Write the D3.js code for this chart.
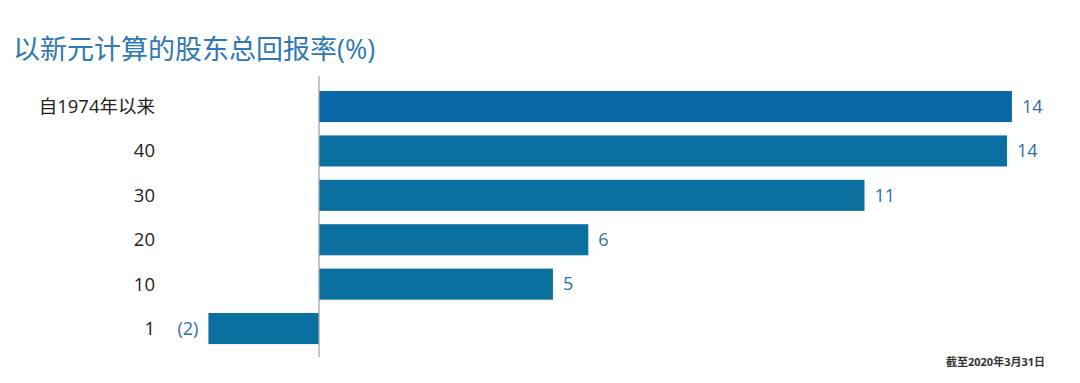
<!DOCTYPE html>
<html>
<head>
<meta charset="utf-8">
<script src="https://cdn.jsdelivr.net/npm/d3@7"></script>
<style>
  body { margin: 0; background: #fff; }
  svg { display: block; font-family: "Open Sans", "Noto Sans CJK SC", sans-serif; }
</style>
</head>
<body>
<svg id="chart"></svg>
<script>
// values
var categories = ["自1974年以来", "40", "30", "20", "10", "1"];
var values = [14.1, 14.0, 11.1, 5.48, 4.76, -2.25];
var valueLabels = ["14", "14", "11", "6", "5", "(2)"];
var title = "以新元计算的股东总回报率(%)";
var footnote = "截至2020年3月31日";

var width = 1080, height = 383;
var svg = d3.select("#chart").attr("width", width).attr("height", height);

var data = categories.map(function (c, i) {
  return {cat: c, val: values[i], lab: valueLabels[i]};
});

// zero sits at x=319
var x = d3.scaleLinear().domain([0, 14]).range([319, 1007]);
var y = d3.scaleBand().domain(categories).range([77.7, 357.4]).paddingInner(0.3).paddingOuter(0.3);

// title
svg.append("text")
  .attr("x", 13).attr("y", 59)
  .style("font-size", "27px")
  .style("fill", "#2f78b4")
  .text(title);

// bars
svg.selectAll("rect.bar")
  .data(data)
  .enter()
  .append("rect")
  .attr("class", "bar")
  .attr("x", function (d) { return Math.min(x(0), x(d.val)); })
  .attr("y", function (d) { return y(d.cat); })
  .attr("width", function (d) { return Math.abs(x(d.val) - x(0)); })
  .attr("height", y.bandwidth())
  .style("fill", function (d, i) { return i === 0 ? "#0867a5" : "#0b70a0"; });

// zero line
svg.append("line")
  .attr("x1", x(0)).attr("x2", x(0))
  .attr("y1", 76).attr("y2", 357)
  .style("stroke", "#a0a0a0")
  .style("stroke-width", 1.2);

// category labels
svg.selectAll("text.cat")
  .data(data)
  .enter()
  .append("text")
  .attr("class", "cat")
  .attr("x", 155)
  .attr("y", function (d) { return y(d.cat) + y.bandwidth() / 2; })
  .attr("dy", "0.35em")
  .attr("text-anchor", "end")
  .style("font-size", "18.5px")
  .style("fill", "#222")
  .text(function (d) { return d.cat; });

// value labels
svg.selectAll("text.val")
  .data(data)
  .enter()
  .append("text")
  .attr("class", "val")
  .attr("x", function (d) { return d.val < 0 ? x(d.val) - 10 : x(d.val) + 10; })
  .attr("y", function (d) { return y(d.cat) + y.bandwidth() / 2; })
  .attr("dy", "0.35em")
  .attr("text-anchor", function (d) { return d.val < 0 ? "end" : "start"; })
  .style("font-size", "18px")
  .style("fill", "#2f6ea6")
  .text(function (d) { return d.lab; });

// footnote
svg.append("text")
  .attr("x", 1045).attr("y", 366)
  .attr("text-anchor", "end")
  .style("font-size", "11px")
  .style("font-weight", "bold")
  .style("fill", "#333")
  .text(footnote);
</script>
</body>
</html>
